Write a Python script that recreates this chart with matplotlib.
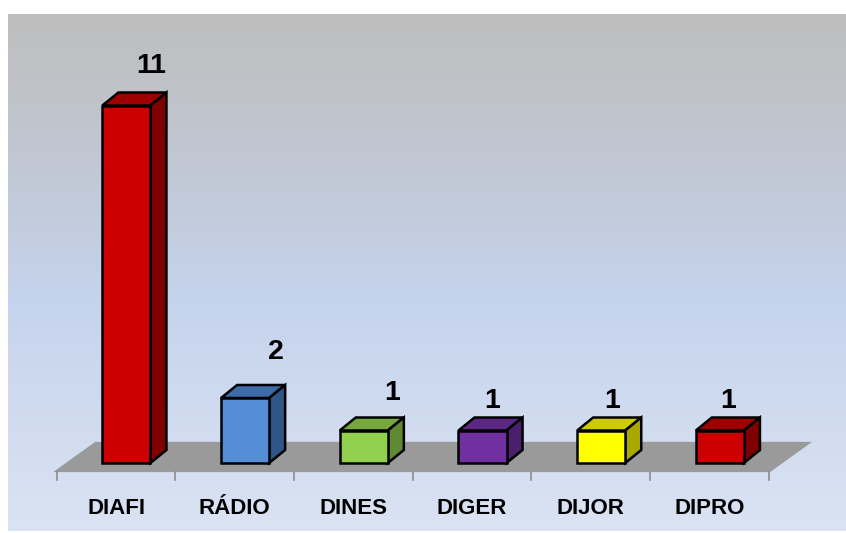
import numpy as np
import matplotlib.pyplot as plt
from matplotlib.patches import Polygon
from matplotlib.colors import LinearSegmentedColormap

# data
categories = ['DIAFI', 'RÁDIO', 'DINES', 'DIGER', 'DIJOR', 'DIPRO']
values = [11, 2, 1, 1, 1, 1]

# face colours: front, top, side
front_colors = ['#cc0000', '#558ed5', '#92d050', '#7030a0', '#ffff00', '#cc0000']
top_colors = ['#9e0000', '#3d6ba8', '#77a83f', '#5a2782', '#cccc00', '#9e0000']
side_colors = ['#7f0000', '#2f5688', '#5f8a33', '#4a1f6b', '#a8a800', '#7f0000']

# label offsets (x from category, y above bar)
label_dx = [0.30, 0.35, 0.33, 0.17, 0.18, 0.16]
label_dy = [1.22, 1.42, 1.15, 0.91, 0.91, 0.91]

W, H = 846, 533
fig = plt.figure(figsize=(W / 100, H / 100), dpi=100)
ax = fig.add_axes([0, 0, 1, 1])
px_x = 118.7   # pixels per category
px_y = 32.5    # pixels per unit
x0, y0 = 116, 463
ax.set_xlim(-x0 / px_x, (W - x0) / px_x)
ax.set_ylim((y0 - H) / px_y, y0 / px_y)
ax.axis('off')

# background gradient
def px2d(px, py):
    return (px - x0) / px_x, (y0 - py) / px_y

cmap = LinearSegmentedColormap.from_list('bg', [(0, '#bebebe'), (0.2, '#c0c4cc'),
                                                 (0.55, '#c5d3ec'), (1, '#dae3f3')])
grad = np.linspace(0, 1, 256).reshape(-1, 1)
bl = px2d(8, 531)
tr = px2d(846, 14)
ax.imshow(grad, cmap=cmap, aspect='auto', extent=[bl[0], tr[0], bl[1], tr[1]],
          origin='upper', zorder=0)

# floor
n = len(categories)
fy0, fy1 = -0.28, 0.65
fshift = 0.355
floor = Polygon([(-0.53, fy0), (n - 0.49, fy0), (n - 0.49 + fshift, fy1), (-0.53 + fshift, fy1)],
                closed=True, facecolor='#9a9a9a', edgecolor='none', zorder=1)
ax.add_patch(floor)

# ticks
for t in np.arange(-0.5, n, 1.0):
    ax.plot([t, t], [fy0, fy0 - 0.25], color='#8c8c8c', lw=1.2, zorder=1)

# bars
bw = 0.405
bl_off = -0.115
dx, dy = 0.135, 0.40
for i, v in enumerate(values):
    x1 = i + bl_off
    x2 = x1 + bw
    front = Polygon([(x1, 0), (x2, 0), (x2, v), (x1, v)], closed=True,
                    facecolor=front_colors[i], edgecolor='black', lw=1.8, zorder=3)
    top = Polygon([(x1, v), (x2, v), (x2 + dx, v + dy), (x1 + dx, v + dy)], closed=True,
                  facecolor=top_colors[i], edgecolor='black', lw=1.8, zorder=2)
    side = Polygon([(x2, 0), (x2 + dx, dy), (x2 + dx, v + dy), (x2, v)], closed=True,
                   facecolor=side_colors[i], edgecolor='black', lw=1.8, zorder=2)
    ax.add_patch(top)
    ax.add_patch(side)
    ax.add_patch(front)
    ax.text(i + label_dx[i], v + label_dy[i], str(v), ha='center', va='center',
            fontsize=20.5, fontweight='bold', family='Liberation Sans', zorder=4)

# category labels
for i, c in enumerate(categories):
    ax.text(i, -1.39, c, ha='center', va='center', fontsize=16,
            fontweight='bold', family='Liberation Sans', zorder=4)

fig.savefig('out.png', dpi=100, facecolor='white')
